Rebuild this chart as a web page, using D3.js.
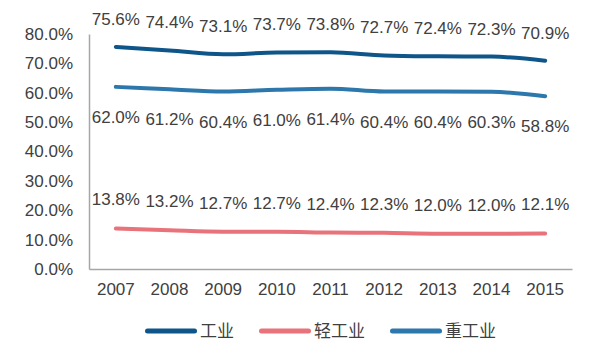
<!DOCTYPE html>
<html>
<head>
<meta charset="utf-8">
<script src="https://cdn.jsdelivr.net/npm/d3@7"></script>
<style>
  body { margin: 0; background: #fff; }
  text { font-family: "Liberation Sans", "Noto Sans CJK SC", sans-serif; fill: #404040; }
</style>
</head>
<body>
<svg></svg>
<script>
let years = ['2007', '2008', '2009', '2010', '2011', '2012', '2013', '2014', '2015']
let gongye = [75.6, 74.4, 73.1, 73.7, 73.8, 72.7, 72.4, 72.3, 70.9]
let qing = [13.8, 13.2, 12.7, 12.7, 12.4, 12.3, 12.0, 12.0, 12.1]
let zhong = [62.0, 61.2, 60.4, 61.0, 61.4, 60.4, 60.4, 60.3, 58.8]
let yTicks = [0, 10, 20, 30, 40, 50, 60, 70, 80]

let series = [
    { name: '工业', values: gongye, color: '#0e5589', dy: -28 },
    { name: '轻工业', values: qing, color: '#e8737a', dy: -29 },
    { name: '重工业', values: zhong, color: '#2c77ab', dy: 30 }
]

let width = 600
let height = 353
let padLeft = 89
let padRight = 572
let padTop = 34
let padBottom = 269

let svg = d3.select('svg')
    .attr('width', width)
    .attr('height', height)

let xScale = d3.scaleBand()
    .domain(years)
    .range([padLeft, padRight])

let yScale = d3.scaleLinear()
    .domain([0, 80])
    .range([padBottom, padTop])

// axes
let xAxis = d3.axisBottom(xScale).tickSize(0).tickPadding(14)
let gx = svg.append('g')
    .attr('transform', 'translate(0,' + padBottom + ')')
    .call(xAxis)
gx.select('.domain').attr('stroke', '#a6a6a6').attr('stroke-width', 1.5)
gx.selectAll('text').style('font-size', '17px')

let yAxis = d3.axisLeft(yScale)
    .tickValues(yTicks)
    .tickSize(0)
    .tickPadding(16)
    .tickFormat(d => d.toFixed(1) + '%')
let gy = svg.append('g')
    .attr('transform', 'translate(' + padLeft + ',0)')
    .call(yAxis)
gy.select('.domain').attr('stroke', '#a6a6a6').attr('stroke-width', 1.5)
gy.selectAll('text').style('font-size', '17px')

let line = d3.line()
    .x((d, i) => xScale(years[i]) + xScale.bandwidth() / 2)
    .y(d => yScale(d))
    .curve(d3.curveMonotoneX)

series.forEach(s => {
    svg.append('path')
        .datum(s.values)
        .attr('d', line)
        .attr('fill', 'none')
        .attr('stroke', s.color)
        .attr('stroke-width', 4)
        .attr('stroke-linecap', 'round')

    svg.selectAll(null)
        .data(s.values)
        .enter()
        .append('text')
        .attr('x', (d, i) => xScale(years[i]) + xScale.bandwidth() / 2)
        .attr('y', d => yScale(d) + s.dy)
        .attr('dy', '0.35em')
        .attr('text-anchor', 'middle')
        .style('font-size', '17px')
        .text(d => d.toFixed(1) + '%')
})

// legend
let legendX = [145, 259, 390]
let legend = svg.selectAll('.legend')
    .data(series)
    .enter()
    .append('g')
    .attr('transform', (d, i) => 'translate(' + legendX[i] + ',331)')

legend.append('line')
    .attr('x1', 2.5)
    .attr('x2', 49.5)
    .attr('stroke', d => d.color)
    .attr('stroke-width', 5)
    .attr('stroke-linecap', 'round')

legend.append('text')
    .attr('x', 55)
    .attr('dy', '0.35em')
    .style('font-size', '17px')
    .text(d => d.name)
</script>
</body>
</html>
